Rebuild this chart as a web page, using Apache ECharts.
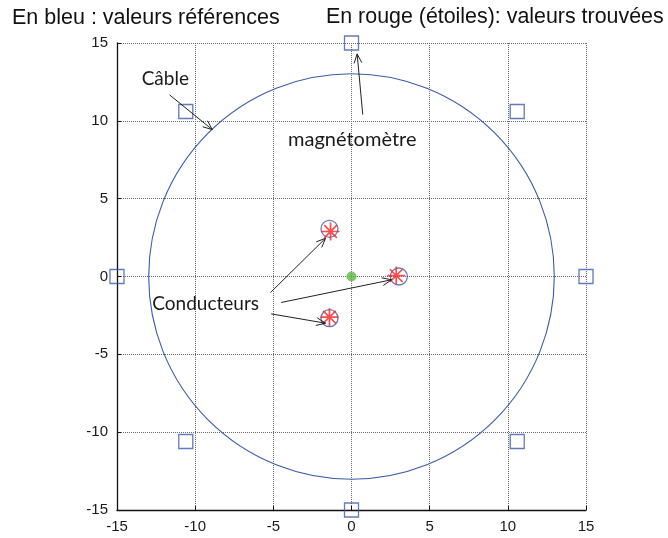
<!DOCTYPE html>
<html>
<head>
<meta charset="utf-8">
<script src="https://cdn.jsdelivr.net/npm/echarts@6/dist/echarts.min.js"></script>
<style>html,body{margin:0;padding:0;background:#fff}#c{width:668px;height:538px}</style>
</head>
<body>
<div id="c"></div>
<script>
// Magnetometers (reference positions, blue squares)
var magX = [15, 10.6, 0, -10.6, -15, -10.6, 0, 10.6];
var magY = [0, 10.6, 15, 10.6, 0, -10.6, -15, -10.6];
// Conductors reference (blue circles)
var refX = [-1.41, 3.03, -1.41];
var refY = [3.06, 0, -2.68];
// Conductors found (red stars)
var foundX = [-1.34, 2.86, -1.41];
var foundY = [2.89, 0.06, -2.61];
// Centre point (green)
var centre = [[0, 0]];
// Cable circle: centre x, centre y, radius
var cable = [[0, 0, 13]];
// Annotation arrows: x1, y1, x2, y2 (data units)
var arrows = [
  [-11.64, 11.67, -8.91, 9.44],
  [0.72, 10.40, 0.36, 14.30],
  [-5.18, -1.03, -1.66, 2.46],
  [-4.50, -1.67, 2.56, -0.21],
  [-5.14, -2.40, -1.66, -3.00]
];
// Annotation texts
var noteText = ['Câble', 'magnétomètre', 'Conducteurs'];
var noteX = [-11.91, 0.05, -9.33];
var noteY = [12.70, 8.80, -1.75];
// Axis ticks
var axisMin = -15, axisMax = 15, axisStep = 5;

var zip = function (a, b) { return a.map(function (v, i) { return [v, b[i]]; }); };
var BLUE = '#3c5aa9';
var chart = echarts.init(document.getElementById('c'), null, {renderer: 'canvas'});

var axisCommon = {
  type: 'value', min: axisMin, max: axisMax, interval: axisStep,
  axisLine: {show: true, onZero: false, lineStyle: {color: '#111', width: 1.3}},
  axisTick: {show: true, inside: true, length: 4, lineStyle: {color: '#111'}},
  splitLine: {show: true, lineStyle: {color: '#6a6a6a', width: 1, type: [1, 1]}},
  axisLabel: {fontFamily: 'Liberation Sans', fontSize: 15, color: '#1a1a1a', margin: 9}
};

chart.setOption({
  animation: false,
  backgroundColor: '#fff',
  grid: {left: 117, right: 82, top: 43, bottom: 28, containLabel: false},
  xAxis: axisCommon,
  yAxis: axisCommon,
  graphic: [
    {type: 'text', left: 12, top: 7, style: {text: 'En bleu : valeurs références', font: '21.5px "Liberation Sans"', fill: '#111'}},
    {type: 'text', left: 326, top: 7, style: {text: 'En rouge (étoiles): valeurs trouvées', font: '21.4px "Liberation Sans"', fill: '#111'}}
  ],
  series: [
    {
      type: 'custom', coordinateSystem: 'cartesian2d', data: cable, z: 3, silent: true,
      renderItem: function (params, api) {
        var c = api.coord([api.value(0), api.value(1)]);
        var s = api.size([api.value(2), api.value(2)]);
        return {type: 'circle', shape: {cx: c[0], cy: c[1], r: (s[0] + s[1]) / 2},
          style: {fill: 'none', stroke: BLUE, lineWidth: 1.1}};
      }
    },
    {
      type: 'scatter', data: zip(magX, magY), symbol: 'rect', symbolSize: 14, z: 4,
      itemStyle: {color: 'rgba(0,0,0,0)', borderColor: BLUE, borderWidth: 1.3}
    },
    {
      type: 'scatter', data: zip(refX, refY), symbol: 'circle', symbolSize: 17, z: 4,
      itemStyle: {color: 'rgba(0,0,0,0)', borderColor: BLUE, borderWidth: 1.3}
    },
    {
      type: 'scatter', data: zip(foundX, foundY), z: 5,
      symbol: 'path://M8,0L8,16M0,8L16,8M2.4,2.4L13.6,13.6M2.4,13.6L13.6,2.4', symbolSize: 18,
      itemStyle: {color: 'rgba(0,0,0,0)', borderColor: '#ff2020', borderWidth: 1.7}
    },
    {
      type: 'scatter', data: centre, symbol: 'circle', symbolSize: 10, z: 5,
      itemStyle: {color: '#5cb945'}
    },
    {
      type: 'custom', coordinateSystem: 'cartesian2d', data: arrows, z: 6, silent: true,
      encode: {x: [0, 2], y: [1, 3]},
      renderItem: function (params, api) {
        var p1 = api.coord([api.value(0), api.value(1)]);
        var p2 = api.coord([api.value(2), api.value(3)]);
        var a = Math.atan2(p2[1] - p1[1], p2[0] - p1[0]);
        var L = 10, h = 0.4;
        var h1 = [p2[0] - L * Math.cos(a - h), p2[1] - L * Math.sin(a - h)];
        var h2 = [p2[0] - L * Math.cos(a + h), p2[1] - L * Math.sin(a + h)];
        return {type: 'group', children: [
          {type: 'line', shape: {x1: p1[0], y1: p1[1], x2: p2[0], y2: p2[1]}, style: {stroke: '#222', lineWidth: 1}},
          {type: 'polyline', shape: {points: [h1, p2, h2]}, style: {stroke: '#222', fill: 'none', lineWidth: 1}}
        ]};
      }
    },
    {
      type: 'custom', coordinateSystem: 'cartesian2d', z: 7, silent: true,
      data: noteX.map(function (x, i) { return [x, noteY[i], i]; }),
      renderItem: function (params, api) {
        var p = api.coord([api.value(0), api.value(1)]);
        var i = api.value(2);
        return {type: 'text', x: p[0], y: p[1], style: {
          text: noteText[i], fontFamily: 'Lato', fontSize: i === 1 ? 20 : 19, fill: '#1a1a1a',
          align: 'center', verticalAlign: 'middle'}};
      }
    }
  ]
});
</script>
</body>
</html>
